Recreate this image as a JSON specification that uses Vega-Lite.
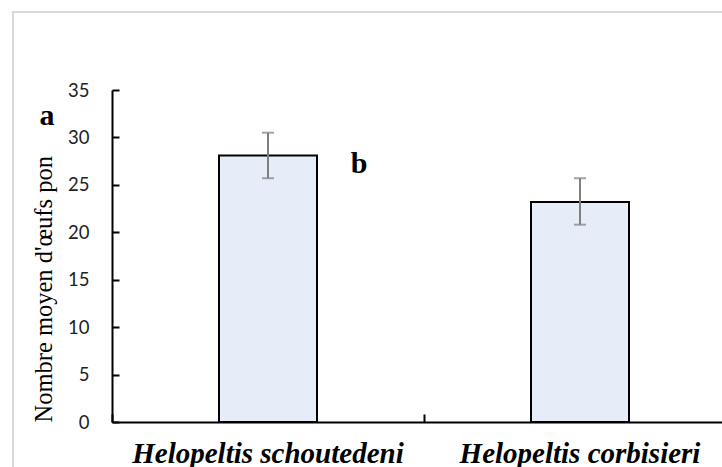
{
  "$schema": "https://vega.github.io/schema/vega-lite/v6.json",
  "autosize": {"type": "none"},
  "padding": {"left": 13, "top": 12, "right": -12, "bottom": -13},
  "width": 721,
  "height": 468,
  "background": "white",
  "config": {
    "view": {"stroke": "#d9d9d9", "strokeWidth": 2}
  },
  "datasets": {
    "bars": [
      {"species": "Helopeltis schoutedeni", "mean": 28.1, "lo": 25.7, "hi": 30.5},
      {"species": "Helopeltis corbisieri", "mean": 23.2, "lo": 20.8, "hi": 25.7}
    ],
    "letters": [
      {"species": "Helopeltis schoutedeni", "pos": 31.3, "letter": "a"},
      {"species": "Helopeltis corbisieri", "pos": 26.25, "letter": "b"}
    ]
  },
  "encoding": {
    "x": {
      "field": "species",
      "type": "nominal",
      "sort": null,
      "scale": {"range": [99, 723], "paddingInner": 0, "paddingOuter": 0},
      "axis": {
        "title": null,
        "offset": -58,
        "bandPosition": 0,
        "labelOffset": 0,
        "labelAngle": 0,
        "labelLimit": 0,
        "labelFont": "Liberation Serif",
        "labelFontSize": 29,
        "labelFontWeight": "bold",
        "labelFontStyle": "italic",
        "labelColor": "black",
        "labelPadding": 25,
        "domainColor": "black",
        "domainWidth": 2,
        "tickColor": "black",
        "tickWidth": 2,
        "tickSize": -8
      }
    }
  },
  "layer": [
    {
      "data": {"name": "bars"},
      "mark": {"type": "bar", "width": 98, "fill": "#e7edf8", "stroke": "black", "strokeWidth": 2},
      "encoding": {
        "y": {
          "field": "mean",
          "type": "quantitative",
          "title": "Nombre moyen d'œufs pon",
          "scale": {"domain": [0, 35], "range": [410, 78], "nice": false},
          "axis": {
            "titleFont": "Liberation Serif",
            "titleFontSize": 24.5,
            "titleFontWeight": "normal",
            "titleColor": "black",
            "titleAnchor": "start",
            "titlePadding": 11,
            "offset": -99,
            "values": [0, 5, 10, 15, 20, 25, 30, 35],
            "grid": false,
            "labelFont": "Lato",
            "labelFontSize": 18.5,
            "labelColor": "#222222",
            "labelPadding": 30,
            "domainColor": "black",
            "domainWidth": 2,
            "tickColor": "black",
            "tickWidth": 2,
            "tickSize": -7
          }
        }
      }
    },
    {
      "data": {"name": "bars"},
      "mark": {"type": "errorbar", "color": "#7f7f7f", "thickness": 2, "ticks": {"size": 12}},
      "encoding": {
        "y": {"field": "lo", "type": "quantitative", "title": "Nombre moyen d'œufs pon"},
        "y2": {"field": "hi"}
      }
    },
    {
      "data": {"name": "letters"},
      "mark": {"type": "text", "font": "Liberation Serif", "fontSize": 30, "fontWeight": "bold", "color": "black", "baseline": "alphabetic", "align": "center", "dx": -221},
      "encoding": {
        "y": {"field": "pos", "type": "quantitative", "title": "Nombre moyen d'œufs pon"},
        "text": {"field": "letter"}
      }
    }
  ]
}
